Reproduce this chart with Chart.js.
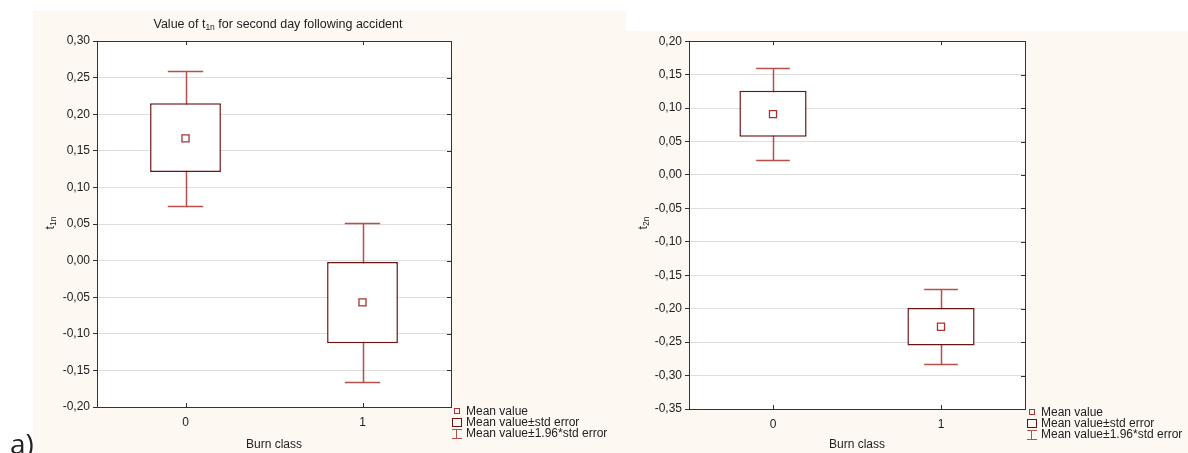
<!DOCTYPE html>
<html>
<head>
<meta charset="utf-8">
<script src="https://cdn.jsdelivr.net/npm/chart.js@4.4.1/dist/chart.umd.min.js"></script>
<style>
body { margin: 0; width: 1188px; height: 453px; overflow: hidden; background: #fff; position: relative; font-family: 'Liberation Sans', Arial, sans-serif; color: #222; }
.panel { position: absolute; background: #fdf8f2; }
.panel canvas { position: absolute; left: 0; top: 0; }
.txt { position: absolute; font-size: 12.5px; line-height: 14px; white-space: nowrap; }
.ytitle { position: absolute; font-size: 12px; transform: translate(-50%, -50%) rotate(-90deg); white-space: nowrap; }
sub { font-size: 8.5px; vertical-align: -2px; }
.legend { position: absolute; font-size: 12px; line-height: 11px; }
.legend div { position: relative; padding-left: 14px; height: 11px; white-space: nowrap; }
.ico { position: absolute; box-sizing: border-box; }
.mean { left: 2px; top: 2px; width: 6px; height: 6px; border: 1px solid #b03030; }
.box { left: 0; top: 1px; width: 10px; height: 9px; border: 1px solid #6b1414; }
.bar { left: 0; top: 1px; width: 10px; height: 10px; border-top: 1px solid #b5504a; border-bottom: 1px solid #b5504a; }
.bar:after { content: ''; position: absolute; left: 4px; top: 0; height: 8px; border-left: 1px solid #b5504a; }
</style>
</head>
<body>
<div class="panel" style="left:33px;top:11px;width:593px;height:442px;">
  <canvas id="chartA" width="593" height="442"></canvas>
</div>
<div class="panel" style="left:626px;top:31px;width:562px;height:422px;">
  <canvas id="chartB" width="562" height="422"></canvas>
</div>

<div class="txt" style="left:97px;top:17px;width:362px;text-align:center;">Value of t<sub>1n</sub> for second day following accident</div>
<div class="ytitle" style="left:50px;top:223px;">t<sub>1n</sub></div>
<div class="ytitle" style="left:643px;top:223px;">t<sub>2n</sub></div>

<div class="legend" style="left:452px;top:406px;">
  <div><span class="ico mean"></span>Mean value</div>
  <div><span class="ico box"></span>Mean value±std error</div>
  <div><span class="ico bar"></span>Mean value±1.96*std error</div>
</div>
<div class="legend" style="left:1027px;top:407px;">
  <div><span class="ico mean"></span>Mean value</div>
  <div><span class="ico box"></span>Mean value±std error</div>
  <div><span class="ico bar"></span>Mean value±1.96*std error</div>
</div>

<div style="position:absolute;left:10px;top:429px;font-size:28px;line-height:28px;font-family:'Open Sans',sans-serif;">a)</div>

<script>
// burn class categories
var classes = ['0', '1'];

// t1n, second day
var meansA = [0.167, -0.057];
var boxHighA = [0.215, -0.002];
var boxLowA = [0.121, -0.113];
var whiskHighA = [0.259, 0.052];
var whiskLowA = [0.075, -0.166];

// t2n
var meansB = [0.091, -0.227];
var boxHighB = [0.126, -0.199];
var boxLowB = [0.057, -0.255];
var whiskHighB = [0.160, -0.171];
var whiskLowB = [0.023, -0.283];

Chart.defaults.font.family = "'Liberation Sans', Arial, sans-serif";
Chart.defaults.font.size = 12;
Chart.defaults.color = '#222';

var whiskerPlugin = {
    id: 'whiskers',
    beforeDraw: function(chart) {
        var a = chart.chartArea;
        var c = chart.ctx;
        c.save();
        c.fillStyle = '#fff';
        c.fillRect(a.left, a.top, a.right - a.left, a.bottom - a.top);
        c.restore();
    },
    beforeDatasetsDraw: function(chart, args, opts) {
        var c = chart.ctx;
        var xs = chart.scales.x;
        var ys = chart.scales.y;
        c.save();
        c.strokeStyle = '#b5504a';
        c.lineWidth = 1.5;
        for (var i = 0; i < opts.hi.length; i++) {
            var x = Math.round(xs.getPixelForValue(i)) + 0.5;
            var x0 = xs.getPixelForValue(i - 0.1);
            var x1 = xs.getPixelForValue(i + 0.1);
            var yh = Math.round(ys.getPixelForValue(opts.hi[i])) + 0.5;
            var yl = Math.round(ys.getPixelForValue(opts.lo[i])) + 0.5;
            c.beginPath();
            c.moveTo(x, yh); c.lineTo(x, yl);
            c.moveTo(x0, yh); c.lineTo(x1, yh);
            c.moveTo(x0, yl); c.lineTo(x1, yl);
            c.stroke();
        }
        c.restore();
    },
    afterDraw: function(chart) {
        var c = chart.ctx;
        var a = chart.chartArea;
        var xs = chart.scales.x;
        var ys = chart.scales.y;
        c.save();
        c.strokeStyle = '#333';
        c.lineWidth = 1;
        c.strokeRect(Math.round(a.left) + 0.5, Math.round(a.top) + 0.5, Math.round(a.right - a.left), Math.round(a.bottom - a.top));
        c.beginPath();
        ys.ticks.forEach(function(t, i) {
            var y = Math.round(ys.getPixelForTick(i)) + 0.5;
            c.moveTo(a.right - 4, y); c.lineTo(a.right, y);
        });
        xs.ticks.forEach(function(t, i) {
            var x = Math.round(xs.getPixelForTick(i)) + 0.5;
            c.moveTo(x, a.top); c.lineTo(x, a.top + 4);
            c.moveTo(x, a.bottom); c.lineTo(x, a.bottom - 4);
        });
        c.stroke();
        c.restore();
    }
};

function makeChart(id, means, boxLow, boxHigh, whiskLow, whiskHigh, ymin, ymax, pad, yWidth, xHeight) {
    var boxes = [];
    for (var i = 0; i < means.length; i++) {
        boxes.push([boxLow[i], boxHigh[i]]);
    }
    return new Chart(document.getElementById(id), {
        type: 'bar',
        data: {
            labels: classes,
            datasets: [{
                type: 'line',
                data: means,
                showLine: false,
                pointStyle: 'rect',
                pointRadius: 5,
                pointBorderWidth: 1.3,
                pointBorderColor: '#a83232',
                pointBackgroundColor: '#fff',
                order: 0
            }, {
                data: boxes,
                backgroundColor: '#fff',
                borderColor: '#6b1414',
                borderWidth: 1.5,
                borderSkipped: false,
                barPercentage: 0.4,
                categoryPercentage: 1,
                order: 1
            }]
        },
        options: {
            responsive: false,
            animation: false,
            layout: { padding: pad },
            plugins: {
                legend: { display: false },
                tooltip: { enabled: false },
                whiskers: { hi: whiskHigh, lo: whiskLow }
            },
            scales: {
                x: {
                    offset: true,
                    grid: { display: false },
                    border: { display: false },
                    ticks: { padding: 0 },
                    title: { display: true, text: 'Burn class', padding: { top: 0, bottom: 1 } },
                    afterFit: function(s) { s.height = xHeight; }
                },
                y: {
                    min: ymin,
                    max: ymax,
                    grid: { color: '#dedede', tickColor: '#333', tickLength: 4 },
                    border: { color: '#333' },
                    ticks: {
                        stepSize: 0.05,
                        padding: 3,
                        callback: function(v) { return v.toFixed(2).replace('.', ','); }
                    },
                    afterFit: function(s) { s.width = yWidth; }
                }
            }
        },
        plugins: [whiskerPlugin]
    });
}

makeChart('chartA', meansA, boxLowA, boxHighA, whiskLowA, whiskHighA, -0.2, 0.3,
    { left: 0, top: 30, right: 175, bottom: 0 }, 64, 46);
makeChart('chartB', meansB, boxLowB, boxHighB, whiskLowB, whiskHighB, -0.35, 0.2,
    { left: 0, top: 10, right: 163, bottom: 0 }, 63, 44);
</script>
</body>
</html>
